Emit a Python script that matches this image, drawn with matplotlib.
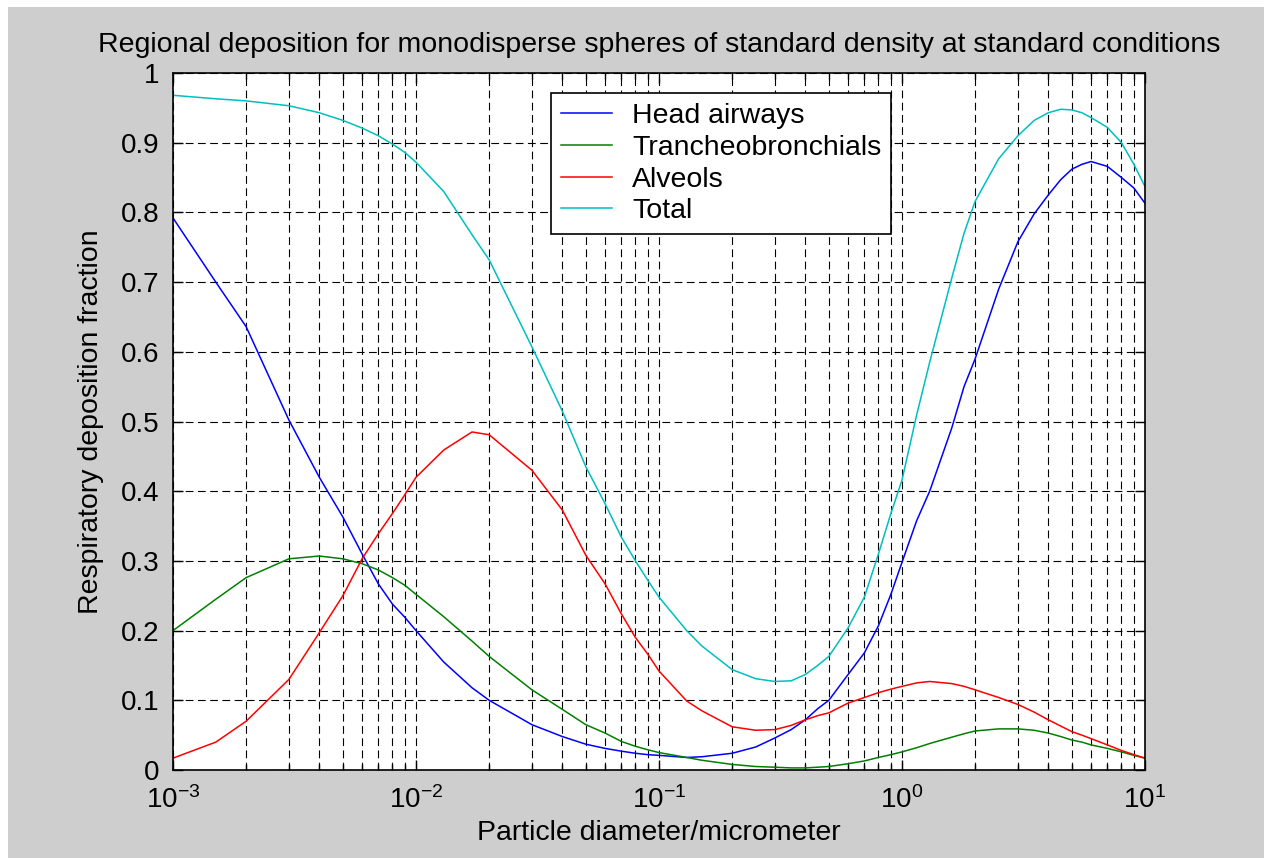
"""
Regional deposition chart (MATLAB-style look)
"""
import math
import matplotlib
matplotlib.use("Agg")
import matplotlib.pyplot as plt
from matplotlib.ticker import LogLocator, FuncFormatter, NullFormatter
from matplotlib.patches import Rectangle

# particle diameter (micrometer)
diameter = [0.001, 0.0015, 0.002, 0.003, 0.004, 0.005, 0.006, 0.007, 0.008, 0.009,
            0.01, 0.013, 0.017, 0.02, 0.03, 0.04, 0.05, 0.06, 0.07, 0.08, 0.09,
            0.1, 0.13, 0.15, 0.2, 0.25, 0.3, 0.35, 0.4, 0.45, 0.5, 0.6, 0.7, 0.8, 0.9,
            1.0, 1.15, 1.3, 1.6, 1.8, 2, 2.5, 3, 3.5, 4, 4.5, 5, 5.5, 6, 7, 8, 9, 10]

head = [0.792, 0.700, 0.636, 0.502, 0.420, 0.363, 0.310, 0.267, 0.238, 0.219,
        0.200, 0.155, 0.118, 0.100, 0.065, 0.048, 0.037, 0.031, 0.027, 0.024, 0.022,
        0.021, 0.018, 0.019, 0.024, 0.033, 0.046, 0.058, 0.072, 0.088, 0.100, 0.137,
        0.168, 0.207, 0.252,
        0.298, 0.358, 0.400, 0.490, 0.550, 0.590, 0.690, 0.758, 0.798, 0.825, 0.847,
        0.862, 0.869, 0.873, 0.866, 0.850, 0.835, 0.813]

tracheo = [0.200, 0.245, 0.276, 0.303, 0.307, 0.303, 0.296, 0.287, 0.276, 0.265,
           0.252, 0.220, 0.185, 0.163, 0.115, 0.087, 0.065, 0.053, 0.041, 0.034, 0.029,
           0.025, 0.018, 0.014, 0.008, 0.005, 0.004, 0.003, 0.003, 0.004, 0.005, 0.009,
           0.013, 0.018, 0.022,
           0.026, 0.032, 0.038, 0.047, 0.052, 0.056, 0.059, 0.059, 0.057, 0.053, 0.048,
           0.043, 0.040, 0.036, 0.031, 0.026, 0.021, 0.017]

alveols = [0.017, 0.040, 0.070, 0.130, 0.197, 0.250, 0.303, 0.339, 0.368, 0.395,
           0.420, 0.459, 0.485, 0.481, 0.430, 0.373, 0.308, 0.267, 0.224, 0.190, 0.166,
           0.142, 0.099, 0.085, 0.062, 0.057, 0.058, 0.064, 0.072, 0.078, 0.082, 0.096,
           0.104, 0.111, 0.116,
           0.120, 0.125, 0.127, 0.124, 0.120, 0.115, 0.104, 0.094, 0.083, 0.072, 0.063,
           0.055, 0.050, 0.045, 0.036, 0.028, 0.022, 0.017]

total = [0.968, 0.963, 0.960, 0.953, 0.943, 0.932, 0.921, 0.910, 0.898, 0.886,
         0.872, 0.830, 0.768, 0.732, 0.607, 0.515, 0.435, 0.382, 0.334, 0.300, 0.272,
         0.248, 0.200, 0.178, 0.144, 0.131, 0.127, 0.128, 0.137, 0.150, 0.163, 0.204,
         0.248, 0.310, 0.368,
         0.416, 0.510, 0.585, 0.705, 0.770, 0.816, 0.877, 0.910, 0.932, 0.943, 0.948,
         0.947, 0.943, 0.936, 0.922, 0.900, 0.869, 0.837]

series = [
    ("Head airways", head, (0, 0, 1)),
    ("Trancheobronchials", tracheo, (0, 0.5, 0)),
    ("Alveols", alveols, (1, 0, 0)),
    ("Total", total, (0, 0.75, 0.75)),
]

plt.rcParams["font.family"] = ["Liberation Sans", "DejaVu Sans"]
plt.rcParams["mathtext.default"] = "regular"
FS = 20.5
TICK_FS = 20

fig = plt.figure(figsize=(12.64, 8.58), dpi=100, facecolor="#cecece")
# thin white strip along left and top edges
fig.patches.append(Rectangle((0, 0), 8 / 1264, 1, transform=fig.transFigure,
                             facecolor="white", edgecolor="none", zorder=-1))
fig.patches.append(Rectangle((0, 1 - 7 / 858), 1, 7 / 858, transform=fig.transFigure,
                             facecolor="white", edgecolor="none", zorder=-1))

ax = fig.add_axes([173 / 1264, 88 / 858, 972 / 1264, 697 / 858])
ax.set_facecolor("white")

for name, vals, color in series:
    ax.plot(diameter, vals, color=color, lw=1.1, label=name)

ax.set_xscale("log")
ax.set_xlim(1e-3, 10)
ax.set_ylim(0, 1)
ax.set_yticks([i / 10 for i in range(11)])
ax.yaxis.set_major_formatter(FuncFormatter(
    lambda v, p: "0" if v == 0 else ("1" if v == 1 else f"{v:.1f}")))
ax.xaxis.set_major_locator(LogLocator(base=10, numticks=10))
ax.xaxis.set_minor_locator(LogLocator(base=10, subs=range(2, 10), numticks=20))
ax.xaxis.set_minor_formatter(NullFormatter())
ax.xaxis.set_major_formatter(FuncFormatter(
    lambda v, p: r"$10^{%d}$" % round(math.log10(v))))

dash = (0, (7, 4))
ax.grid(True, which="major", axis="both", color="black", lw=0.8, linestyle=dash)
ax.grid(True, which="minor", axis="x", color="black", lw=0.8, linestyle=dash)

ax.tick_params(which="both", direction="in", top=True, right=True, colors="black",
               labelsize=TICK_FS, width=1.0)
ax.tick_params(which="major", length=7)
ax.tick_params(axis="x", which="major", pad=12)
ax.tick_params(axis="y", which="major", pad=10)
ax.tick_params(which="minor", length=4)
for s in ax.spines.values():
    s.set_linewidth(1.2)
    s.set_color("black")

ax.set_title("Regional deposition for monodisperse spheres of standard density at standard conditions",
             fontsize=FS, pad=15)
ax.set_xlabel("Particle diameter/micrometer", fontsize=FS, labelpad=4)
ax.set_ylabel("Respiratory deposition fraction", fontsize=FS, labelpad=12)

leg = ax.legend(loc="upper left", bbox_to_anchor=(0.389, 0.971), borderaxespad=0,
                fontsize=FS, fancybox=False, framealpha=1, edgecolor="black",
                handlelength=1.8, handletextpad=0.7, labelspacing=0.2,
                borderpad=0.35)
leg.get_frame().set_linewidth(1.2)

fig.savefig("out.png", dpi=100, facecolor=fig.get_facecolor())
